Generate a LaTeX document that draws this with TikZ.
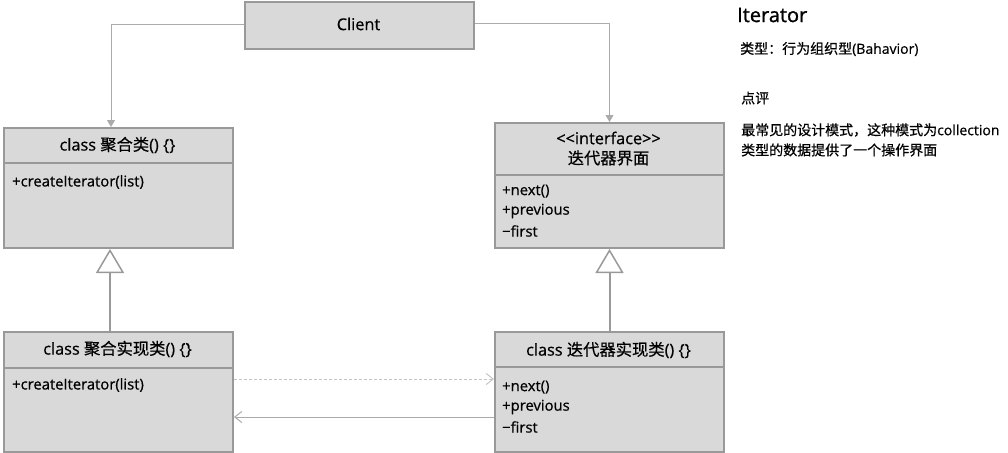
\documentclass[tikz,border=0pt]{standalone}
\usepackage{fontspec}
\setmainfont{Open Sans}[FakeBold=0.6]
\newfontfamily\cjk{Noto Sans CJK SC}[FakeBold=0.6]
\newfontfamily\titlefont{Open Sans}[FakeBold=1.2]
\usetikzlibrary{arrows.meta}
\definecolor{boxfill}{HTML}{D9D9D9}
\definecolor{boxline}{HTML}{999999}
\definecolor{connline}{HTML}{ABABAB}
\begin{document}
\begin{tikzpicture}[x=1pt,y=-1pt,
  umlbox/.style={draw=boxline, fill=boxfill, line width=2pt, anchor=north west, minimum width=229pt, inner sep=0pt},
  divider/.style={draw=boxline, line width=2pt},
  conn/.style={draw=connline, line width=1pt},
  inh/.style={draw=boxline, line width=2pt, -{Triangle[open, length=24pt, width=28pt, line width=1.5pt]}},
  hdr/.style={font=\fontsize{16.3}{19}\selectfont, inner sep=0pt, anchor=center},
  item/.style={font=\fontsize{14.8}{17}\selectfont, inner sep=0pt, anchor=west},
  note/.style={font=\fontsize{14}{16}\selectfont, inner sep=0pt, anchor=west},
  open/.style={-{Straight Barb[length=7pt, width=11pt, line width=1pt]}},
  filledtip/.style={-{Triangle[length=7pt, width=8pt]}}
]
\useasboundingbox (0,0) rectangle (1008,452);

% Client
\node[umlbox, minimum height=47pt] (client) at (244,1) {};
\node[hdr] (clientt) at (358.5,24) {Client};

% Aggregate
\node[umlbox, minimum height=120pt] (agg) at (3,127) {};
\draw[divider] (3,163) -- (232,163);
\node[hdr] (aggt) at (117.5,145) {class {\cjk 聚合类}() \{\}};
\node[item] (aggm) at (12,182) {+createIterator(list)};

% Interface
\node[umlbox, minimum height=125pt] (iter) at (494,122) {};
\draw[divider] (494,175) -- (723,175);
\node[hdr] (itert1) at (608.5,138) {<\kern0pt<interface>\kern0pt>};
\node[hdr] (itert2) at (608.5,158) {\cjk 迭代器界面};
\node[item] (iterm1) at (502,191) {+next()};
\node[item] (iterm2) at (502,211) {+previous};
\node[item] (iterm3) at (502,231) {−first};

% Aggregate impl
\node[umlbox, minimum height=120pt] (aggimpl) at (3,331) {};
\draw[divider] (3,368) -- (232,368);
\node[hdr] (aggimplt) at (117.5,349) {class {\cjk 聚合实现类}() \{\}};
\node[item] (aggimplm) at (12,385) {+createIterator(list)};

% Iterator impl
\node[umlbox, minimum height=120pt] (iterimpl) at (494,331) {};
\draw[divider] (494,367) -- (723,367);
\node[hdr] (iterimplt) at (608.5,350) {class {\cjk 迭代器实现类}() \{\}};
\node[item] (iterimplm1) at (502,387) {+next()};
\node[item] (iterimplm2) at (502,407) {+previous};
\node[item] (iterimplm3) at (502,427) {−first};

% Client connectors
\draw[conn, filledtip] ([yshift=1pt]client.west) -| ([xshift=-7.5pt]agg.north);
\draw[conn, filledtip] ([yshift=2pt]client.east) -| (iter.north);

% Inheritance
\draw[inh] ([xshift=-8.5pt]aggimpl.north) -- ([xshift=-8.5pt]agg.south);
\draw[inh] (iterimpl.north) -- (iter.south);

% Associations
\draw[conn, densely dashed, draw=connline!70, open] ([yshift=13pt]aggimpl.east) -- ([yshift=13pt]iterimpl.west);
\draw[conn, open] ([yshift=-25pt]iterimpl.west) -- ([yshift=-25pt]aggimpl.east);

% Notes
\node[inner sep=0pt, anchor=west, font=\titlefont\fontsize{20}{23}\selectfont] (title) at (737,15) {Iterator};
\node[note] (n1) at (740,49) {{\cjk 类型：行为组织型}(Bahavior)};
\node[note] (n2) at (741,98) {\cjk 点评};
\node[note] (n3) at (741,130) {{\cjk 最常见的设计模式，这种模式为}collection};
\node[note] (n4) at (741,150) {\cjk 类型的数据提供了一个操作界面};
\end{tikzpicture}
\end{document}
